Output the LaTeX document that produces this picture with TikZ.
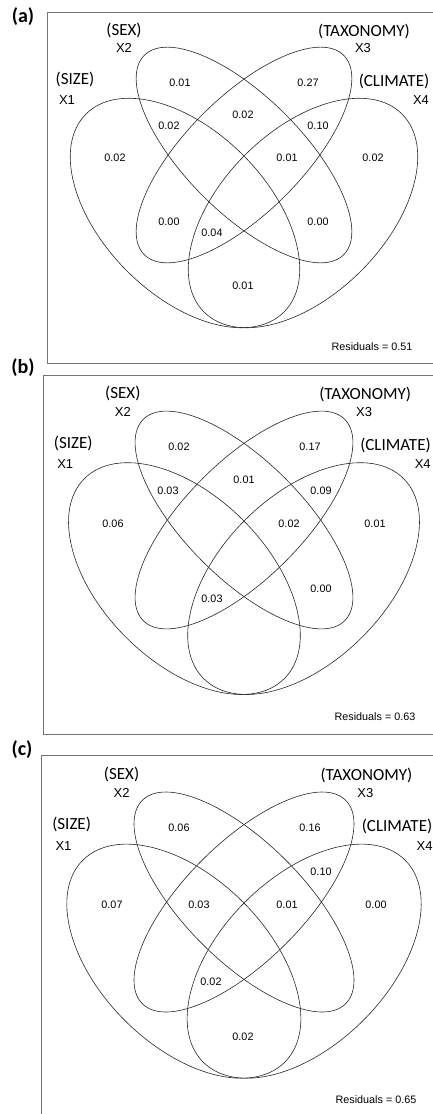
\documentclass[tikz,border=0pt]{standalone}
\usepackage{fontspec}
\newfontfamily\calfont{Carlito}
\newfontfamily\arialfont{Liberation Sans}
\usepackage{tikz}
\usetikzlibrary{positioning}

\begin{document}
\begin{tikzpicture}[x=1pt,y=-1pt,
  venn/.style={draw=black!85,line width=0.6pt},
  frm/.style={draw=black!55,line width=1pt},
  grp/.style={font=\calfont\fontsize{17}{20}\selectfont,inner sep=0pt},
  xlab/.style={font=\arialfont\fontsize{13}{15}\selectfont,inner sep=0pt},
  num/.style={font=\arialfont\fontsize{10.8}{12}\selectfont,inner sep=0pt},
  pan/.style={font=\calfont\bfseries\fontsize{20}{24}\selectfont,inner sep=0pt}]
\clip (0,0) rectangle (433,1114);
% panel frames, right side runs off the page
\foreach \l/\t/\b in {47/12/363, 43/375/734, 41/755/1120}{
  \draw[frm] (440,\t)--(\l,\t)--(\l,\b)--(440,\b);
}
\node[pan] (pa) at (23,17) {(a)};
\node[pan] (pb) at (23,368) {(b)};
\node[pan] (pc) at (22,750) {(c)};
% four sets, same layout in every panel
\foreach \p/\cy/\s in {a/155/1, b/520/1.01, c/902/1.02}{
  \begin{scope}[shift={(244,\cy)},scale=\s]
    \draw[venn] (0,0) ellipse [x radius=141pt,y radius=58pt,rotate=-45];
    \draw[venn] (0,0) ellipse [x radius=141pt,y radius=58pt,rotate=45];
    \draw[venn] (-59,58) ellipse [x radius=140pt,y radius=82pt,rotate=-45];
    \draw[venn] (59,58) ellipse [x radius=140pt,y radius=82pt,rotate=45];
    \node[grp] (size\p) at (-169,-76) {(SIZE)};
    \node[xlab] (xa\p) at (-177,-55) {X1};
    \node[grp] (sex\p) at (-120,-125) {(SEX)};
    \node[xlab] (xb\p) at (-120,-107) {X2};
    \node[grp] (tax\p) at (120,-124) {(TAXONOMY)};
    \node[xlab] (xc\p) at (119,-107) {X3};
    \node[grp] (clim\p) at (150,-74) {(CLIMATE)};
    \node[xlab] (xd\p) at (177,-55) {X4};
  \end{scope}
}
% fractions, panel (a)
\foreach \x/\y/\v [count=\i] in {180/83/0.01, 308/83/0.27, 243/115/0.02, 169/126/0.02,
    318/126/0.10, 115/158/0.02, 287/158/0.01, 373/158/0.02, 169/222/0.00,
    212/233/0.04, 318/222/0.00, 243/286/0.01}
  \node[num] (na\i) at (\x,\y) {\v};
% fractions, panel (b)
\foreach \x/\y/\v [count=\i] in {179/447/0.02, 310/447/0.17, 244/480/0.01, 168/491/0.03,
    321/491/0.09, 113/524/0.06, 289/524/0.02, 375/524/0.01, 321/589/0.00, 212/599/0.03}
  \node[num] (nb\i) at (\x,\y) {\v};
% fractions, panel (c)
\foreach \x/\y/\v [count=\i] in {179/828/0.06, 310/828/0.16, 321/872/0.10, 112/905/0.07,
    199/905/0.03, 287/905/0.01, 376/905/0.00, 211/982/0.02, 243/1037/0.02}
  \node[num] (nc\i) at (\x,\y) {\v};
\node[num] (resa) at (372,347) {Residuals = 0.51};
\node[num] (resb) at (375,717) {Residuals = 0.63};
\node[num] (resc) at (376,1100) {Residuals = 0.65};
\end{tikzpicture}
\end{document}
